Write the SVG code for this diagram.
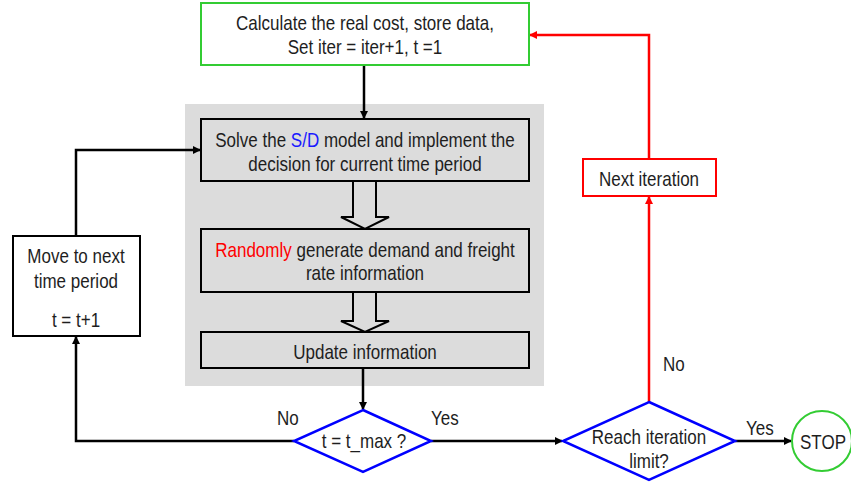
<svg xmlns="http://www.w3.org/2000/svg" width="851" height="483" viewBox="0 0 851 483">
  <style>
    text { font-family: "Liberation Sans", Arial, sans-serif; font-size: 21px; fill: #1e1e1e; text-anchor: middle; }
    .lbl { text-anchor: start; }
    .box { fill: none; stroke: #000; stroke-width: 2; }
    .wbox { fill: #fff; stroke: #000; stroke-width: 2; }
    .blk { fill: none; stroke: #000; stroke-width: 2.5; }
    .red { fill: none; stroke: #f00; stroke-width: 2.5; }
    .dia { fill: #fff; stroke: #00f; stroke-width: 2.5; }
    .hollow { fill: #dcdcdc; stroke: #000; stroke-width: 2; }
  </style>
  <defs>
    <marker id="ab" markerWidth="8" markerHeight="8" refX="7" refY="4" orient="auto" markerUnits="userSpaceOnUse" viewBox="0 0 8 8">
      <path d="M0,0 L8,4 L0,8 z" fill="#000"/>
    </marker>
    <marker id="ar" markerWidth="8" markerHeight="8" refX="7" refY="4" orient="auto" markerUnits="userSpaceOnUse" viewBox="0 0 8 8">
      <path d="M0,0 L8,4 L0,8 z" fill="#f00"/>
    </marker>
  </defs>

  <!-- shaded simulation block -->
  <rect x="185" y="104" width="359" height="282" fill="#dcdcdc"/>

  <!-- condensed lettering: each label is squeezed horizontally around its anchor -->
  <g id="connectors">
    <path class="blk" d="M364,65 V118" marker-end="url(#ab)"/>
    <path class="blk" d="M363,368 V409" marker-end="url(#ab)"/>
    <path class="blk" d="M431,441 H562" marker-end="url(#ab)"/>
    <path class="blk" d="M735,441 H791" marker-end="url(#ab)"/>
    <path class="blk" d="M294,441 H76 V337" marker-end="url(#ab)"/>
    <path class="blk" d="M76,236 V150 H200" marker-end="url(#ab)"/>
    <path class="red" d="M649,402 V197" marker-end="url(#ar)"/>
    <path class="red" d="M649,159 V35 H530" marker-end="url(#ar)"/>
    <!-- hollow block arrows -->
    <path class="hollow" d="M353,181 V217 H341 L365,229 L389,217 H376 V181"/>
    <path class="hollow" d="M353,292 V321 H341 L365,332 L389,321 H376 V292"/>
    <text class="lbl" transform="translate(277,425) scale(0.81,1)">No</text>
    <text class="lbl" transform="translate(431,425) scale(0.81,1)">Yes</text>
    <text class="lbl" transform="translate(663,371) scale(0.81,1)">No</text>
    <text class="lbl" transform="translate(746,435) scale(0.81,1)">Yes</text>
  </g>

  <g id="calc">
    <rect x="201" y="3" width="328" height="62" fill="#fff" stroke="#3c3" stroke-width="2"/>
    <text transform="translate(365,30) scale(0.81,1)">Calculate the real cost, store data,</text>
    <text transform="translate(365,54) scale(0.81,1)">Set iter = iter+1, t =1</text>
  </g>

  <g id="solve">
    <rect class="box" x="201" y="119" width="328" height="62"/>
    <text transform="translate(365,147) scale(0.81,1)">Solve the <tspan fill="#1a1aff">S/D</tspan> model and implement the</text>
    <text transform="translate(365,171) scale(0.81,1)">decision for current time period</text>
  </g>

  <g id="random">
    <rect class="box" x="201" y="229" width="328" height="63"/>
    <text transform="translate(365,257) scale(0.81,1)"><tspan fill="#f00">Randomly</tspan> generate demand and freight</text>
    <text transform="translate(365,280) scale(0.81,1)">rate information</text>
  </g>

  <g id="update">
    <rect class="box" x="201" y="332" width="328" height="36"/>
    <text transform="translate(365,359) scale(0.81,1)">Update information</text>
  </g>

  <g id="move">
    <rect class="wbox" x="13" y="236" width="127" height="100"/>
    <text transform="translate(76,263) scale(0.81,1)">Move to next</text>
    <text transform="translate(76,288) scale(0.81,1)">time period</text>
    <text transform="translate(76,327) scale(0.81,1)">t = t+1</text>
  </g>

  <g id="tmax">
    <polygon class="dia" points="363,410 431,441 363,472 294,441"/>
    <text transform="translate(364,448) scale(0.81,1)">t = t_max ?</text>
  </g>

  <g id="limit">
    <polygon class="dia" points="649,402 735,441 649,480 563,441"/>
    <text transform="translate(649,444) scale(0.81,1)">Reach iteration</text>
    <text transform="translate(649,468) scale(0.81,1)">limit?</text>
  </g>

  <g id="next">
    <rect x="583" y="159" width="133" height="37" fill="#fff" stroke="#f00" stroke-width="2"/>
    <text transform="translate(649,186) scale(0.81,1)">Next iteration</text>
  </g>

  <g id="stop">
    <circle cx="822" cy="441" r="30" fill="#fff" stroke="#3c3" stroke-width="2"/>
    <text transform="translate(823,449) scale(0.81,1)">STOP</text>
  </g>
</svg>
